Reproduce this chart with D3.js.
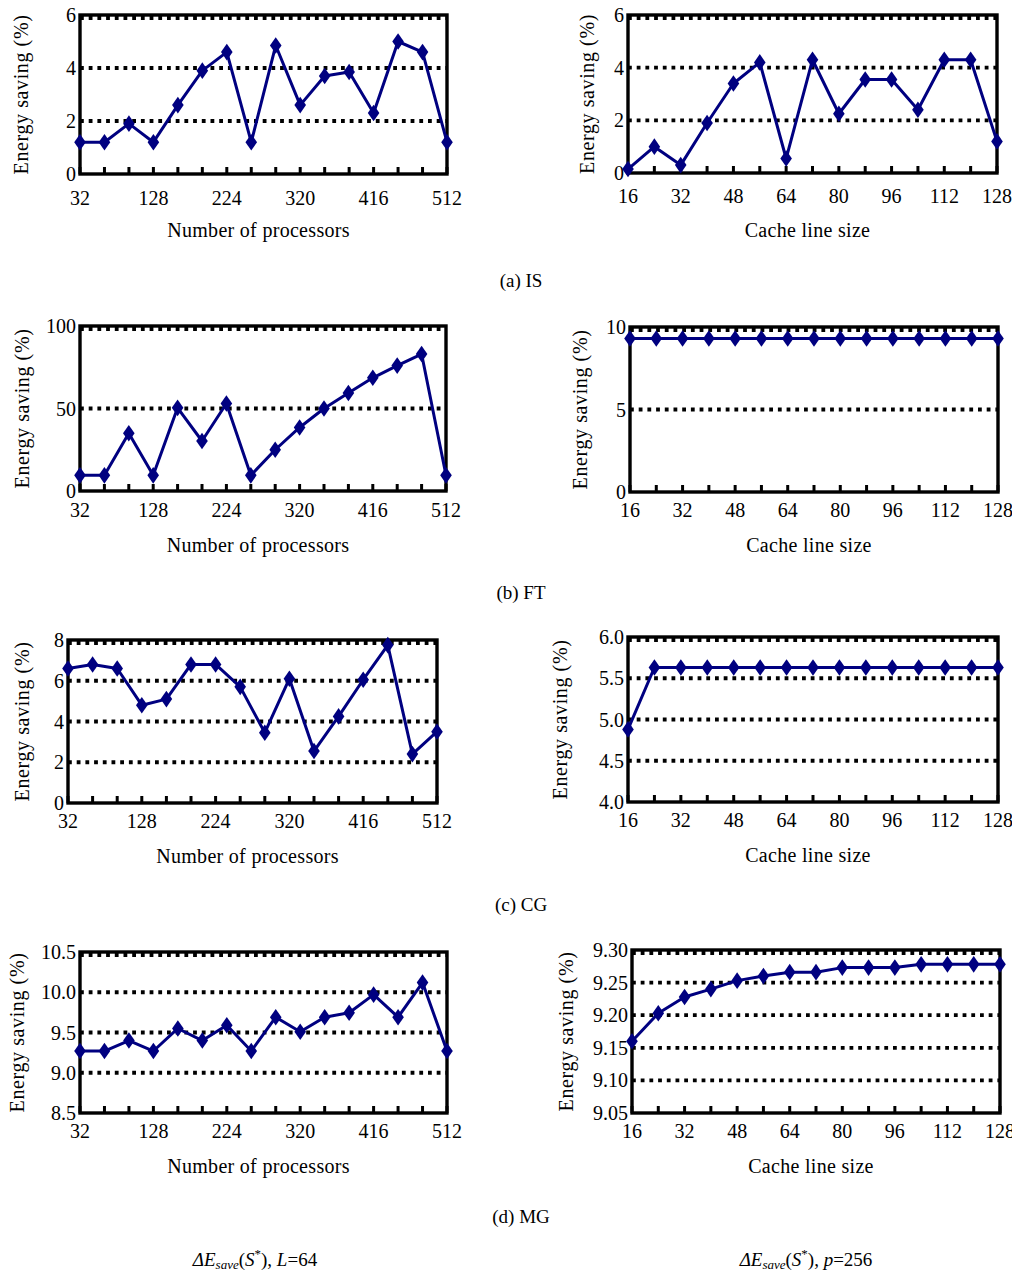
<!DOCTYPE html>
<html><head><meta charset="utf-8">
<script src="https://cdn.jsdelivr.net/npm/d3@7"></script>
<style>html,body{margin:0;padding:0;background:#fff;}svg{display:block;}</style>
</head><body>
<svg id="chart" width="1012" height="1273"></svg>
<script>
// ---- data ----
const procX = [32,64,96,128,160,192,224,256,288,320,352,384,416,448,480,512];
const cacheX = [16,24,32,40,48,56,64,72,80,88,96,104,112,120,128];
const procTicks = [32,128,224,320,416,512];
const cacheTicks = [16,32,48,64,80,96,112,128];

const isProc  = [1.2,1.2,1.9,1.2,2.6,3.9,4.6,1.2,4.85,2.6,3.7,3.85,2.3,5.0,4.6,1.2];
const isCache = [0.15,1.0,0.3,1.9,3.4,4.2,0.55,4.3,2.25,3.55,3.55,2.4,4.3,4.3,1.2];
const ftProc  = [9.5,9.5,35,9.5,50.4,30.3,53,9.5,25,38.5,50,59.4,68.6,76,83,9.5];
const ftCache = [9.3,9.3,9.3,9.3,9.3,9.3,9.3,9.3,9.3,9.3,9.3,9.3,9.3,9.3,9.3];
const cgProc  = [6.6,6.8,6.6,4.8,5.1,6.8,6.8,5.7,3.45,6.1,2.55,4.25,6.05,7.75,2.4,3.5];
const cgCache = [4.88,5.63,5.63,5.63,5.63,5.63,5.63,5.63,5.63,5.63,5.63,5.63,5.63,5.63,5.63];
const mgProc  = [9.27,9.27,9.4,9.27,9.55,9.4,9.59,9.27,9.69,9.51,9.69,9.745,9.97,9.69,10.12,9.27];
const mgCache = [9.16,9.203,9.228,9.24,9.253,9.26,9.266,9.266,9.273,9.273,9.273,9.278,9.278,9.278,9.278];

const isY = [0,2,4,6];
const ftProcY = [0,50,100];
const ftCacheY = [0,5,10];
const cgProcY = [0,2,4,6,8];
const cgCacheY = [4.0,4.5,5.0,5.5,6.0];
const mgProcY = [8.5,9.0,9.5,10.0,10.5];
const mgCacheY = [9.05,9.10,9.15,9.20,9.25,9.30];

const captions = ["(a) IS","(b) FT","(c) CG","(d) MG"];
const procTitle = "Number of processors";
const cacheTitle = "Cache line size";
const yTitle = "Energy saving (%)";

// ---- layout ----
const panels = [
  {x:procX, y:isProc,  xt:procTicks,  yt:isY,      fmt:d3.format("d"),   title:procTitle,  L:80,  R:447, T:15,  B:174, ytx:21,  tdy:31, ttdy:63},
  {x:cacheX,y:isCache, xt:cacheTicks, yt:isY,      fmt:d3.format("d"),   title:cacheTitle, L:628, R:997, T:15,  B:173, ytx:587, tdy:30, ttdy:64},
  {x:procX, y:ftProc,  xt:procTicks,  yt:ftProcY,  fmt:d3.format("d"),   title:procTitle,  L:80,  R:446, T:326, B:491, ytx:22,  tdy:26, ttdy:61},
  {x:cacheX,y:ftCache, xt:cacheTicks, yt:ftCacheY, fmt:d3.format("d"),   title:cacheTitle, L:630, R:998, T:327, B:492, ytx:580, tdy:25, ttdy:60},
  {x:procX, y:cgProc,  xt:procTicks,  yt:cgProcY,  fmt:d3.format("d"),   title:procTitle,  L:68,  R:437, T:640, B:803, ytx:22,  tdy:25, ttdy:60},
  {x:cacheX,y:cgCache, xt:cacheTicks, yt:cgCacheY, fmt:d3.format(".1f"), title:cacheTitle, L:628, R:998, T:637, B:802, ytx:560, tdy:25, ttdy:60},
  {x:procX, y:mgProc,  xt:procTicks,  yt:mgProcY,  fmt:d3.format(".1f"), title:procTitle,  L:80,  R:447, T:952, B:1113, ytx:17, tdy:25, ttdy:60},
  {x:cacheX,y:mgCache, xt:cacheTicks, yt:mgCacheY, fmt:d3.format(".2f"), title:cacheTitle, L:632, R:1000,T:950, B:1113, ytx:566, tdy:25, ttdy:60}
];

const svg = d3.select("#chart");
const FONT = "'Liberation Serif','Times New Roman',serif";
const NAVY = "#000080";

panels.forEach(p => {
  const g = svg.append("g");
  const x = d3.scaleLinear().domain([p.x[0], p.x[p.x.length-1]]).range([p.L, p.R]);
  const y = d3.scaleLinear().domain([p.yt[0], p.yt[p.yt.length-1]]).range([p.B, p.T]);

  // dotted grid
  g.selectAll("line.grid").data(p.yt.slice(1)).join("line")
    .attr("x1", p.L).attr("x2", p.R)
    .attr("y1", d => y(d) + (d === p.yt[p.yt.length-1] ? 3 : 0))
    .attr("y2", d => y(d) + (d === p.yt[p.yt.length-1] ? 3 : 0))
    .attr("stroke", "#000").attr("stroke-width", 3.8)
    .attr("stroke-dasharray", "3.8 4.9");

  // bottom inner ticks
  g.selectAll("line.tk").data(p.x).join("line")
    .attr("x1", d => x(d)).attr("x2", d => x(d))
    .attr("y1", p.B).attr("y2", p.B - 7)
    .attr("stroke", "#000").attr("stroke-width", 3);

  // frame
  g.append("rect").attr("x", p.L).attr("y", p.T)
    .attr("width", p.R - p.L).attr("height", p.B - p.T)
    .attr("fill", "none").attr("stroke", "#000").attr("stroke-width", 3.4);

  // line
  const pts = p.x.map((v,i) => [v, p.y[i]]);
  g.append("path").datum(pts)
    .attr("d", d3.line().x(d => x(d[0])).y(d => y(d[1])))
    .attr("fill", "none").attr("stroke", NAVY).attr("stroke-width", 3)
    .attr("stroke-linejoin", "round");

  // diamonds
  g.selectAll("path.m").data(pts).join("path")
    .attr("d", "M0,-8.3L5.8,0L0,8.3L-5.8,0Z")
    .attr("transform", d => `translate(${x(d[0])},${y(d[1])})`)
    .attr("fill", NAVY);

  // x tick labels
  g.selectAll("text.xt").data(p.xt).join("text")
    .attr("x", d => x(d)).attr("y", p.B + p.tdy)
    .attr("text-anchor", "middle")
    .attr("font-family", FONT).attr("font-size", 20)
    .text(d => d);

  // y tick labels
  g.selectAll("text.yt").data(p.yt).join("text")
    .attr("x", p.L - 4).attr("y", d => y(d))
    .attr("dy", "0.35em")
    .attr("text-anchor", "end")
    .attr("font-family", FONT).attr("font-size", 20)
    .text(d => p.fmt(d));

  // x title
  g.append("text")
    .attr("x", (p.L + p.R)/2 - 5).attr("y", p.B + p.ttdy)
    .attr("text-anchor", "middle")
    .attr("font-family", FONT).attr("font-size", 20)
    .attr("letter-spacing", 0.3)
    .text(p.title);

  // y title
  g.append("text")
    .attr("transform", `translate(${p.ytx},${(p.T + p.B)/2}) rotate(-90)`)
    .attr("dy", "0.35em")
    .attr("text-anchor", "middle")
    .attr("font-family", FONT).attr("font-size", 20)
    .attr("letter-spacing", 0.6)
    .text(yTitle);
});

// captions
captions.forEach((c, i) => {
  svg.append("text")
    .attr("x", 521).attr("y", 287 + i*312)
    .attr("text-anchor", "middle")
    .attr("font-family", FONT).attr("font-size", 19)
    .text(c);
});

// bottom formulas
function formula(cx, varName, val) {
  const t = svg.append("text")
    .attr("x", cx).attr("y", 1266)
    .attr("text-anchor", "middle")
    .attr("font-family", FONT).attr("font-size", 19);
  t.append("tspan").attr("font-style", "italic").text("ΔE");
  t.append("tspan").attr("font-style", "italic").attr("font-size", 13).attr("dy", 3).text("save");
  t.append("tspan").attr("dy", -3).text("(");
  t.append("tspan").attr("font-style", "italic").text("S");
  t.append("tspan").attr("font-size", 13).attr("dy", -8).text("*");
  t.append("tspan").attr("dy", 8).text("), ");
  t.append("tspan").attr("font-style", "italic").text(varName);
  t.append("tspan").text("=" + val);
}
formula(255, "L", "64");
formula(806, "p", "256");
</script>
</body></html>
